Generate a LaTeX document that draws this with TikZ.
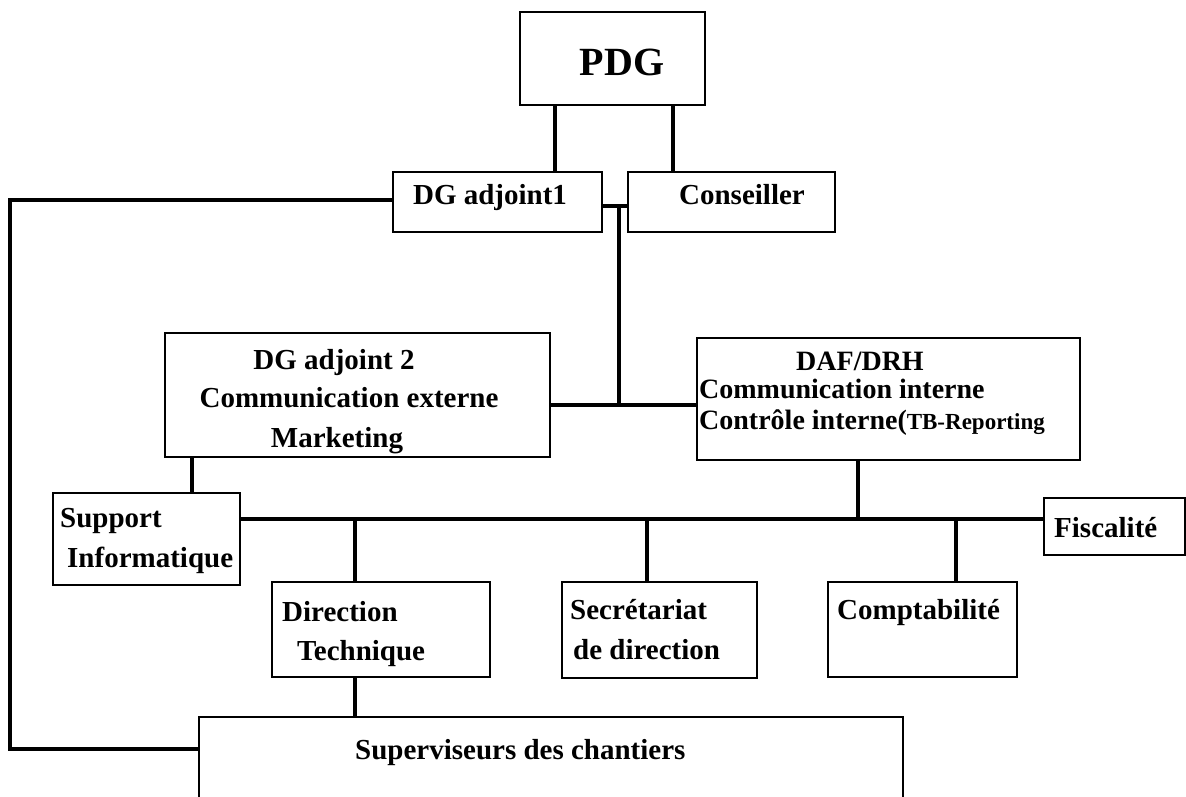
\documentclass[tikz,border=0pt]{standalone}
\usepackage{fontspec}
\setmainfont{Liberation Serif}
\begin{document}
\begin{tikzpicture}[x=1pt,y=-1pt,
  box/.style={draw, line width=2.5pt, inner sep=0pt, rectangle},
  thinbox/.style={draw, line width=1.5pt, inner sep=0pt, rectangle},
  conn/.style={line width=4pt},
  lbl/.style={font=\fontsize{29}{32}\selectfont\bfseries, inner sep=0pt},
  dlbl/.style={font=\fontsize{28}{30}\selectfont\bfseries, inner sep=0pt},
]
\useasboundingbox (0,0) rectangle (1186,797);
\clip (0,0) rectangle (1186,797);
\fill[white] (0,0) rectangle (1186,797);

% boxes
\node[box, minimum width=185, minimum height=93] (pdg) at (612.5,58.5) {};
\node[box, minimum width=209, minimum height=60] (dga1) at (497.5,202) {};
\node[box, minimum width=207, minimum height=60] (cons) at (731.5,202) {};
\node[box, minimum width=385, minimum height=124] (dga2) at (357.5,395) {};
\node[box, minimum width=383, minimum height=122] (daf) at (888.5,399) {};
\node[box, minimum width=187, minimum height=92] (sup) at (146.5,539) {};
\node[box, minimum width=218, minimum height=95] (dt) at (381,629.5) {};
\node[box, minimum width=195, minimum height=96] (sec) at (659.5,630) {};
\node[box, minimum width=189, minimum height=95] (comp) at (922.5,629.5) {};
\node[box, minimum width=141, minimum height=57] (fisc) at (1114.5,526.5) {};
\node[thinbox, minimum width=704, minimum height=113] (superv) at (551,773.5) {};

% helper coordinates
\coordinate (x1) at (555,0);
\coordinate (x2) at (673,0);
\coordinate (j1) at (619,206);
\coordinate (j2) at (619,405);
\coordinate (l1) at (10,749);
\coordinate (x3) at (192,0);
\coordinate (bus) at (0,519);
\coordinate (b1) at (858,519);
\coordinate (b2) at (355,519);
\coordinate (b3) at (647,519);
\coordinate (b4) at (956,519);

% connectors
\draw[conn] (pdg.south -| x1) -- (dga1.north -| x1);
\draw[conn] (pdg.south -| x2) -- (cons.north -| x2);
\draw[conn] (dga1.east |- j1) -- (cons.west |- j1);
\draw[conn] (j1) -- (j2);
\draw[conn] (dga2.east |- j2) -- (daf.west |- j2);
\draw[conn] (dga1.west |- 0,200) -| (l1) -- (superv.west |- l1);
\draw[conn] (dga2.south -| x3) -- (sup.north -| x3);
\draw[conn] (sup.east |- bus) -- (fisc.west |- bus);
\draw[conn] (daf.south -| b1) -- (b1);
\draw[conn] (b2) -- (dt.north -| b2);
\draw[conn] (b3) -- (sec.north -| b3);
\draw[conn] (b4) -- (comp.north -| b4);
\draw[conn] (dt.south -| b2) -- (superv.north -| b2);

% labels
\node[lbl, font=\fontsize{40}{44}\selectfont\bfseries, anchor=mid] (tpdg) at (622,73) {PDG};
\node[lbl, anchor=mid] (tdga1) at (490,202) {DG adjoint1};
\node[lbl, anchor=mid] (tcons) at (742,202) {Conseiller};
\node[lbl, anchor=mid] (tdga2a) at (334,367) {DG adjoint 2};
\node[lbl, anchor=mid] (tdga2b) at (349,405) {Communication externe};
\node[lbl, anchor=mid] (tdga2c) at (337,445) {Marketing};
\node[dlbl, anchor=mid] (tdafa) at (860,368) {DAF/DRH};
\node[dlbl, anchor=mid west] (tdafb) at (699,396) {Communication interne};
\node[dlbl, anchor=mid west] (tdafc) at (699,427) {Contrôle interne({\fontsize{23}{26}\selectfont TB-Reporting}};
\node[lbl, anchor=mid west] (tsupa) at (60,525) {Support};
\node[lbl, anchor=mid west] (tsupb) at (67,565) {Informatique};
\node[lbl, anchor=mid west] (tdta) at (282,619) {Direction};
\node[lbl, anchor=mid west] (tdtb) at (297,658) {Technique};
\node[lbl, anchor=mid west] (tseca) at (570,617) {Secrétariat};
\node[lbl, anchor=mid west] (tsecb) at (573,657) {de direction};
\node[lbl, anchor=mid west] (tcomp) at (837,617) {Comptabilité};
\node[lbl, anchor=mid west] (tfisc) at (1054,535) {Fiscalité};
\node[lbl, anchor=mid west] (tsuperv) at (355,757) {Superviseurs des chantiers};
\end{tikzpicture}
\end{document}
